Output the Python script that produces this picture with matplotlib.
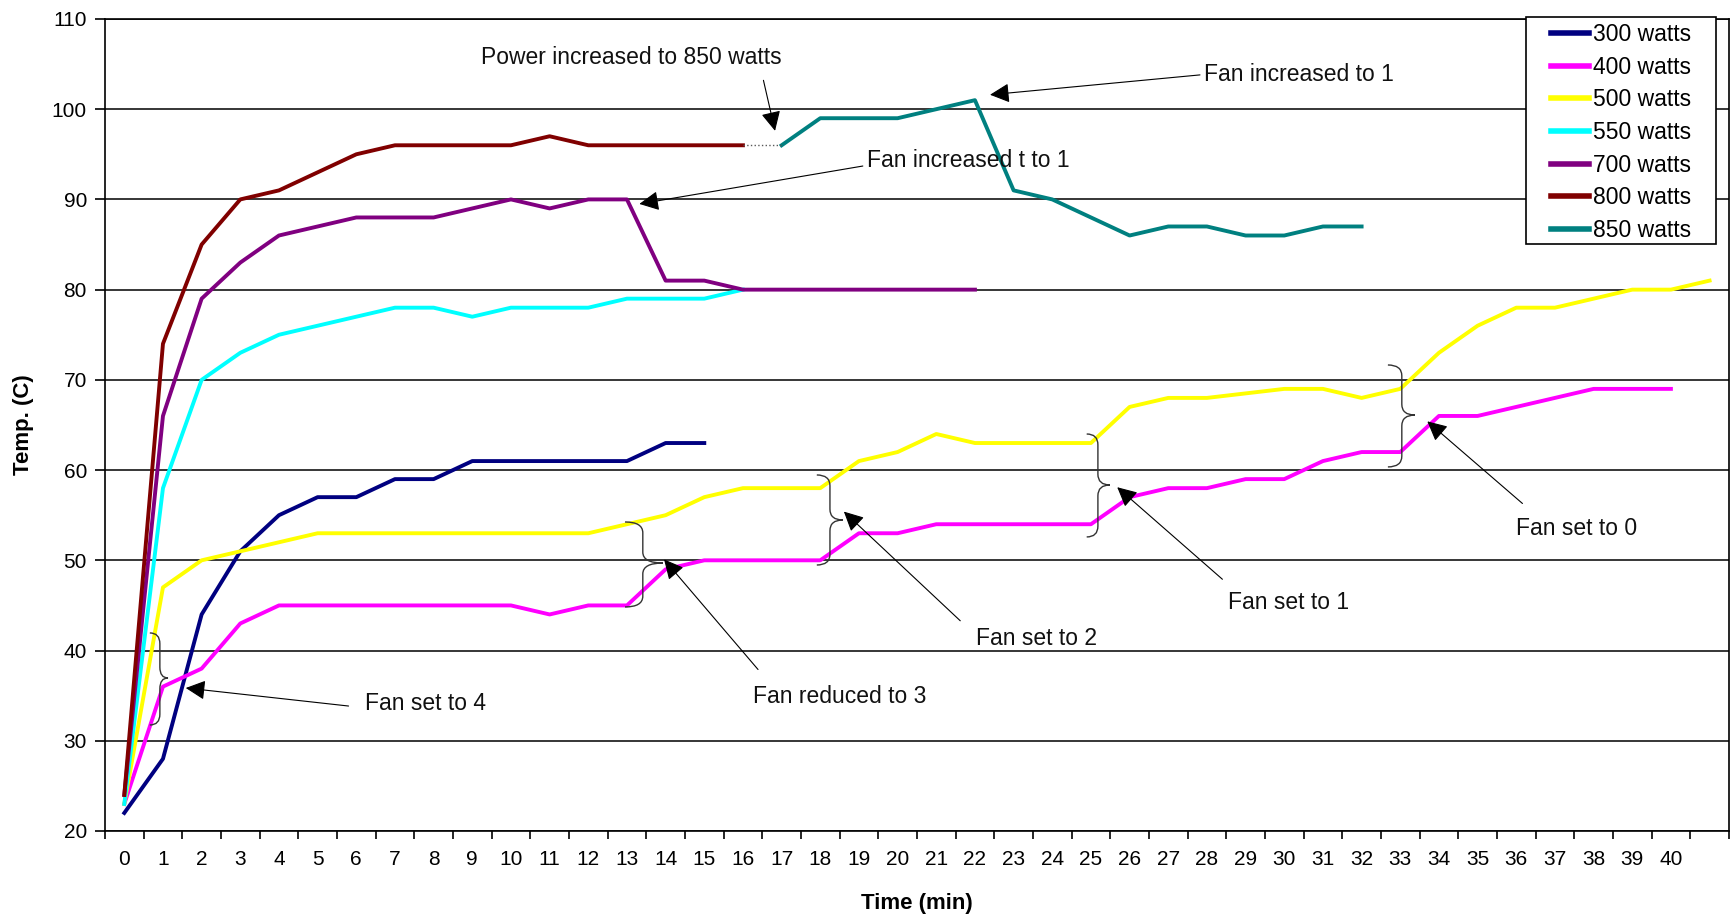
import matplotlib.pyplot as plt
from matplotlib.path import Path
from matplotlib.patches import PathPatch, Rectangle
import numpy as np

plt.rcParams['font.family'] = ['Liberation Sans', 'DejaVu Sans']

# Temperatura (C) registrada cada minuto para cada potencia
temp_300 = [22, 28, 44, 51, 55, 57, 57, 59, 59, 61, 61, 61, 61, 61, 63, 63]
temp_400 = [23, 36, 38, 43, 45, 45, 45, 45, 45, 45, 45, 44, 45, 45, 49, 50,
            50, 50, 50, 53, 53, 54, 54, 54, 54, 54, 57, 58, 58, 59, 59, 61,
            62, 62, 66, 66, 67, 68, 69, 69, 69]
temp_500 = [23, 47, 50, 51, 52, 53, 53, 53, 53, 53, 53, 53, 53, 54, 55, 57,
            58, 58, 58, 61, 62, 64, 63, 63, 63, 63, 67, 68, 68, 68.5, 69, 69,
            68, 69, 73, 76, 78, 78, 79, 80, 80, 81]
temp_550 = [23, 58, 70, 73, 75, 76, 77, 78, 78, 77, 78, 78, 78, 79, 79, 79, 80]
temp_700 = [24, 66, 79, 83, 86, 87, 88, 88, 88, 89, 90, 89, 90, 90, 81, 81,
            80, 80, 80, 80, 80, 80, 80]
temp_800 = [24, 74, 85, 90, 91, 93, 95, 96, 96, 96, 96, 97, 96, 96, 96, 96, 96]
# 850 W empieza en el minuto 17 (continuación de la serie de 800 W)
temp_850 = [96, 99, 99, 99, 100, 101, 91, 90, 88, 86, 87, 87, 86, 86, 87, 87]
start_850 = 17

series = [temp_300, temp_400, temp_500, temp_550, temp_700, temp_800, temp_850]
starts = [0, 0, 0, 0, 0, 0, start_850]
labels = ['300 watts', '400 watts', '500 watts', '550 watts', '700 watts',
          '800 watts', '850 watts']
colors = ['#000080', '#FF00FF', '#FFFF00', '#00FFFF', '#800080', '#800000',
          '#008080']

n_cats = 42
tick_labels = [str(i) for i in range(41)]

W, H = 1735, 916
fig, ax = plt.subplots(figsize=(W / 100, H / 100), dpi=100)
fig.subplots_adjust(left=0.0605, right=0.9965, bottom=0.0928, top=0.9793)

for y, x0, lab, c in zip(series, starts, labels, colors):
    x = np.arange(x0, x0 + len(y))
    ax.plot(x, y, color=c, lw=2.8, label=lab, solid_joinstyle='round')

# tramo punteado entre 800 W y 850 W
ax.plot([len(temp_800) - 1, start_850], [temp_800[-1], temp_850[0]],
        ls=':', color='0.35', lw=1.0)

# anotaciones: texto, posición del texto, origen y punta de la flecha
notes = [
    ('Power increased to 850 watts', (9.22, 105.7), (16.53, 103.2), (16.83, 97.6)),
    ('Fan increased to 1', (27.92, 103.8), (27.82, 103.8), (22.39, 101.6)),
    ('Fan increased t to 1', (19.22, 94.3), (19.1, 93.7), (13.32, 89.5)),
    ('Fan set to 4', (6.22, 34.1), (5.8, 33.85), (1.59, 35.85)),
    ('Fan reduced to 3', (16.27, 34.96), (16.39, 37.9), (13.96, 50.1)),
    ('Fan set to 2', (22.02, 41.3), (21.62, 43.3), (18.61, 55.4)),
    ('Fan set to 1', (28.54, 45.3), (28.4, 47.9), (25.68, 58.1)),
    ('Fan set to 0', (35.99, 53.5), (36.16, 56.3), (33.7, 65.4)),
]
for txt, pos, tail, head in notes:
    ax.text(pos[0], pos[1], txt, ha='left', va='center', fontsize=16.5,
            color='#111111')
    ax.annotate('', xy=head, xytext=tail,
                arrowprops=dict(arrowstyle='-|>,head_length=0.6,head_width=0.3',
                                mutation_scale=20, lw=0.8, color='black',
                                shrinkA=0, shrinkB=0))


def brace(ax, x_end, x_spine, x_tip, y_top, y_bot, y_mid, r=1.2):
    verts = [(x_end, y_top), (x_spine, y_top), (x_spine, y_top - r),
             (x_spine, y_mid + r), (x_spine, y_mid), (x_tip, y_mid),
             (x_spine, y_mid), (x_spine, y_mid - r),
             (x_spine, y_bot + r), (x_spine, y_bot), (x_end, y_bot)]
    codes = [Path.MOVETO, Path.CURVE3, Path.CURVE3, Path.LINETO,
             Path.CURVE3, Path.CURVE3, Path.CURVE3, Path.CURVE3,
             Path.LINETO, Path.CURVE3, Path.CURVE3]
    ax.add_patch(PathPatch(Path(verts, codes), fill=False, ec='#333333',
                           lw=1.0, zorder=4))


braces = [
    (0.66, 0.92, 1.13, 41.95, 31.75, 36.96),
    (12.95, 13.41, 13.93, 54.25, 44.83, 49.7),
    (17.91, 18.25, 18.58, 59.46, 49.48, 54.47),
    (24.89, 25.18, 25.49, 64.0, 52.59, 58.35),
    (32.68, 33.04, 33.38, 71.65, 60.35, 66.1),
]
for b in braces:
    brace(ax, *b)

ax.set_xlim(-0.5, n_cats - 0.5)
ax.set_ylim(20, 110)
ax.set_yticks(np.arange(20, 111, 10))
ax.set_xticks(np.arange(-0.5, n_cats, 1))
ax.set_xticklabels([])
ax.set_xticks(np.arange(41), minor=True)
ax.set_xticklabels(tick_labels, minor=True)
ax.tick_params(axis='x', which='major', length=6, width=1.2, direction='out')
ax.tick_params(axis='x', which='minor', length=0, pad=14, labelsize=15)
ax.tick_params(axis='y', length=7, width=1.2, pad=6, labelsize=15)

ax.grid(axis='y', color='black', lw=1.1)
for s in ax.spines.values():
    s.set_color('black')
    s.set_linewidth(1.2)

ax.set_xlabel('Time (min)', fontsize=16, fontweight='bold')
ax.xaxis.set_label_coords(0.5, -0.076)
ax.set_ylabel('Temp. (C)', fontsize=16, fontweight='bold')
ax.yaxis.set_label_coords(-0.044, 0.5)

# recuadro de la leyenda (margen lateral mayor que el vertical)
box = Rectangle((1526 / W, 1 - 244 / H), 190 / W, 227.5 / H,
                transform=fig.transFigure, facecolor='white',
                edgecolor='black', lw=1.2, zorder=4.9, clip_on=False)
ax.add_patch(box)
leg = ax.legend(loc='upper left', bbox_to_anchor=(1551 / W, 1 - 23.2 / H),
                bbox_transform=fig.transFigure, fontsize=16.5, frameon=False,
                borderpad=0, labelspacing=0.42, handlelength=1.65,
                handletextpad=0.2, borderaxespad=0)
leg.set_zorder(5)
for h in leg.get_lines():
    h.set_linewidth(4)

fig.savefig('out.png', dpi=100)
